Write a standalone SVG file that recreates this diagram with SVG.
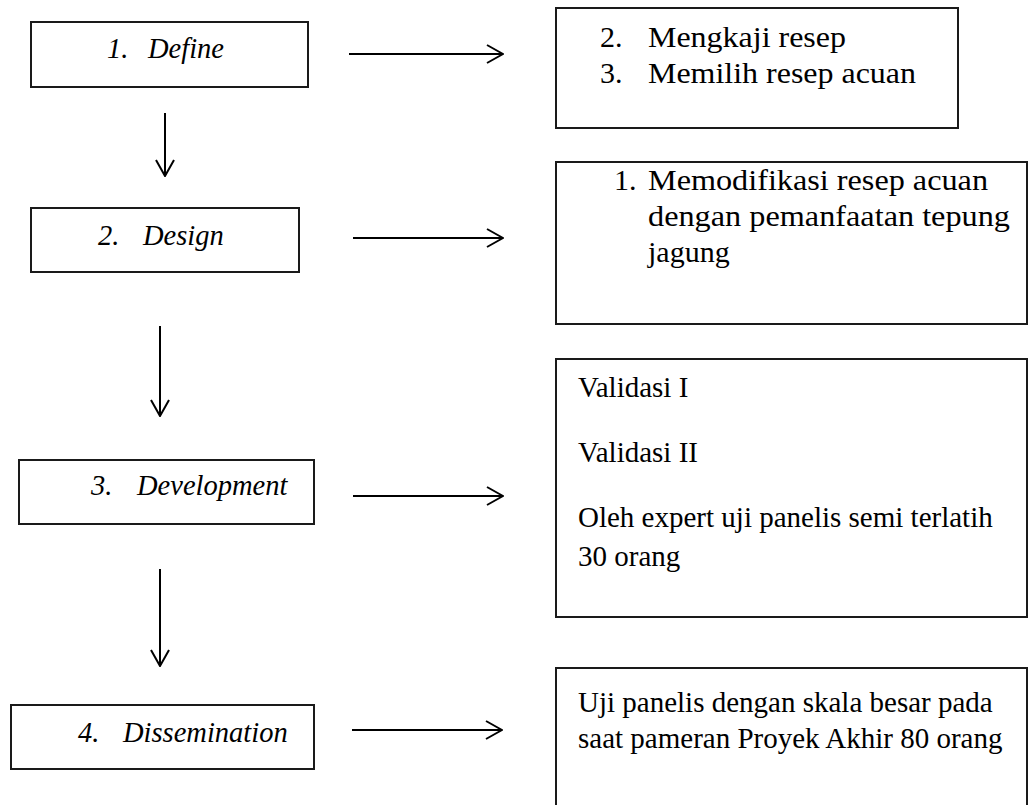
<svg xmlns="http://www.w3.org/2000/svg" width="1029" height="805" viewBox="0 0 1029 805">
<style>
.box{fill:#fff;stroke:#1a1a1a;stroke-width:2}
.lbl{font-family:"Liberation Serif","Times New Roman",serif;font-size:28.5px;font-style:italic;fill:#000}
.txt{font-family:"Liberation Serif","Times New Roman",serif;font-size:29px;fill:#000}
.lst{font-family:"Liberation Serif","Times New Roman",serif;font-size:30px;fill:#000}
.conn{stroke:#000;stroke-width:2;fill:none;marker-end:url(#arr)}
</style>
<defs>
<marker id="arr" markerUnits="userSpaceOnUse" viewBox="0 0 18 20" refX="17" refY="10" markerWidth="18" markerHeight="20" orient="auto">
<path d="M1,1 L17,10 L1,19" fill="none" stroke="#000" stroke-width="2"/>
</marker>
</defs>
<rect width="1029" height="805" fill="#fff"/>
<g id="define">
<rect class="box" x="31" y="22" width="277" height="65"/>
<text class="lbl" x="107" y="58">1.</text>
<text class="lbl" x="148" y="58">Define</text>
</g>
<g id="design">
<rect class="box" x="31" y="208" width="268" height="64"/>
<text class="lbl" x="98" y="245">2.</text>
<text class="lbl" x="143" y="245">Design</text>
</g>
<g id="development">
<rect class="box" x="19" y="460" width="295" height="64"/>
<text class="lbl" x="91" y="495">3.</text>
<text class="lbl" x="137" y="495">Development</text>
</g>
<g id="dissemination">
<rect class="box" x="11" y="705" width="303" height="64"/>
<text class="lbl" x="78" y="742">4.</text>
<text class="lbl" x="123" y="742">Dissemination</text>
</g>
<g id="define-detail">
<rect class="box" x="556" y="8" width="402" height="120"/>
<text class="lst" x="600" y="47">2.</text>
<text class="lst" x="648" y="47" textLength="198" lengthAdjust="spacingAndGlyphs">Mengkaji resep</text>
<text class="lst" x="600" y="83">3.</text>
<text class="lst" x="648" y="83" textLength="268" lengthAdjust="spacingAndGlyphs">Memilih resep acuan</text>
</g>
<g id="design-detail">
<rect class="box" x="556" y="162" width="471" height="162"/>
<text class="lst" x="614" y="190">1.</text>
<text class="lst" x="648" y="190" textLength="340" lengthAdjust="spacingAndGlyphs">Memodifikasi resep acuan</text>
<text class="lst" x="648" y="226" textLength="362" lengthAdjust="spacingAndGlyphs">dengan pemanfaatan tepung</text>
<text class="lst" x="648" y="262">jagung</text>
</g>
<g id="development-detail">
<rect class="box" x="556" y="359" width="471" height="258"/>
<text class="txt" x="578" y="397">Validasi I</text>
<text class="txt" x="578" y="462">Validasi II</text>
<text class="txt" x="578" y="527">Oleh expert uji panelis semi terlatih</text>
<text class="txt" x="578" y="566">30 orang</text>
</g>
<g id="dissemination-detail">
<rect class="box" x="556" y="668" width="471" height="150"/>
<text class="txt" x="578" y="712">Uji panelis dengan skala besar pada</text>
<text class="txt" x="578" y="748">saat pameran Proyek Akhir 80 orang</text>
</g>
<g id="connectors">
<line class="conn" x1="349" y1="54" x2="503" y2="54"/>
<line class="conn" x1="353" y1="238" x2="503" y2="238"/>
<line class="conn" x1="353" y1="496" x2="503" y2="496"/>
<line class="conn" x1="352" y1="730" x2="502" y2="730"/>
<line class="conn" x1="165" y1="113" x2="165" y2="176"/>
<line class="conn" x1="160" y1="326" x2="160" y2="416"/>
<line class="conn" x1="160" y1="569" x2="160" y2="666"/>
</g>
</svg>
